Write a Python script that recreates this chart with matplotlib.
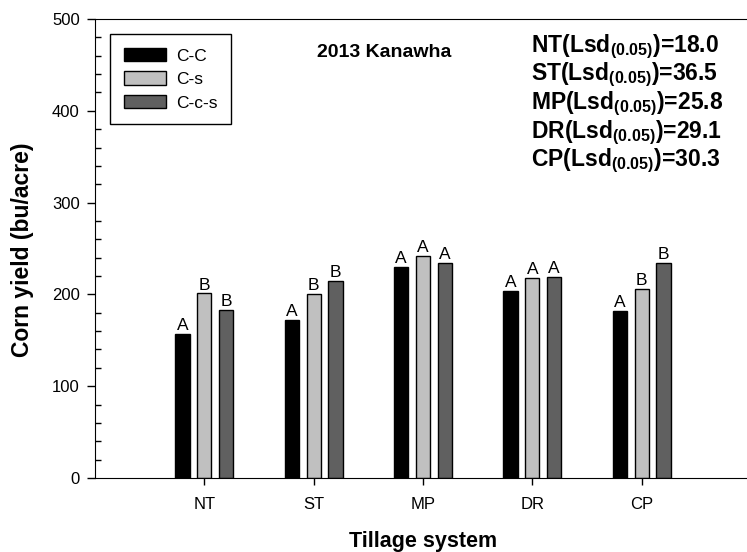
import matplotlib
matplotlib.use("Agg")
import matplotlib.pyplot as plt
import numpy as np

plt.rcParams['font.family'] = ['Liberation Sans', 'DejaVu Sans']
plt.rcParams['mathtext.fontset'] = 'custom'
plt.rcParams['mathtext.rm'] = 'Liberation Sans'
plt.rcParams['mathtext.bf'] = 'Liberation Sans:bold'

tillage = ["NT", "ST", "MP", "DR", "CP"]
rotations = ["C-C", "C-s", "C-c-s"]
cc = [157, 172, 230, 204, 182]
cs = [201, 200, 242, 218, 206]
ccs = [183, 215, 234, 219, 234]
letters_cc = ["A", "A", "A", "A", "A"]
letters_cs = ["B", "B", "A", "A", "B"]
letters_ccs = ["B", "B", "A", "A", "B"]
lsd = [18.0, 36.5, 25.8, 29.1, 30.3]

colors = ["black", "#c0c0c0", "#606060"]

fig = plt.figure(figsize=(7.47, 5.52), dpi=100)
W, H = 747, 552
ax = fig.add_axes([95 / W, 1 - 478 / H, (751 - 95) / W, (478 - 19) / H])

x = np.arange(1, len(tillage) + 1)
width = 0.13
offsets = [-0.2, 0.0, 0.2]
series = [cc, cs, ccs]
letters = [letters_cc, letters_cs, letters_ccs]

for vals, lets, off, col, name in zip(series, letters, offsets, colors, rotations):
    ax.bar(x + off, vals, width, color=col, edgecolor="black", linewidth=1, label=name)
    for xi, v, l in zip(x + off, vals, lets):
        ax.text(xi, v + 1, l, ha="center", va="bottom", fontsize=12.5)

ax.set_xlim(0, 6)
ax.set_ylim(0, 500)
ax.set_xticks(x)
ax.set_xticklabels(tillage, fontsize=12)
ax.set_yticks(np.arange(0, 501, 100))
ax.set_yticks(np.arange(0, 501, 20), minor=True)
ax.tick_params(axis="y", which="major", direction="out", length=6, width=1, labelsize=12, pad=5)
ax.tick_params(axis="y", which="minor", direction="in", length=4, width=1)
ax.tick_params(axis="x", which="major", direction="out", length=5, width=1, pad=9)
ax.spines["right"].set_visible(False)

fig.text(23 / W, 1 - 250 / H, "Corn yield (bu/acre)", rotation=90, ha="center", va="center",
         fontsize=16.5, fontweight="bold")
fig.text(423 / W, 1 - 542 / H, "Tillage system", ha="center", va="center",
         fontsize=15.5, fontweight="bold")

fig.text(317 / W, 1 - 57 / H, "2013 Kanawha", ha="left", va="baseline", fontsize=14, fontweight="bold")

baselines = [52, 80.5, 109, 138, 166]
for name, val, b in zip(tillage, lsd, baselines):
    fig.text(531 / W, 1 - b / H, name + r"(Lsd$_{\mathbf{(0.05)}}$)=" + "%.1f" % val,
             ha="left", va="baseline", fontsize=16.5, fontweight="bold")

leg = ax.legend(loc="upper left", bbox_to_anchor=(110 / W, 1 - 34 / H),
                bbox_transform=fig.transFigure, borderaxespad=0, fontsize=12.5,
                fancybox=False, edgecolor="black", framealpha=1,
                handlelength=2.4, handleheight=0.8, labelspacing=0.45,
                borderpad=0.8, handletextpad=0.6)
leg.get_frame().set_linewidth(1)

fig.savefig("out.png", dpi=100)
